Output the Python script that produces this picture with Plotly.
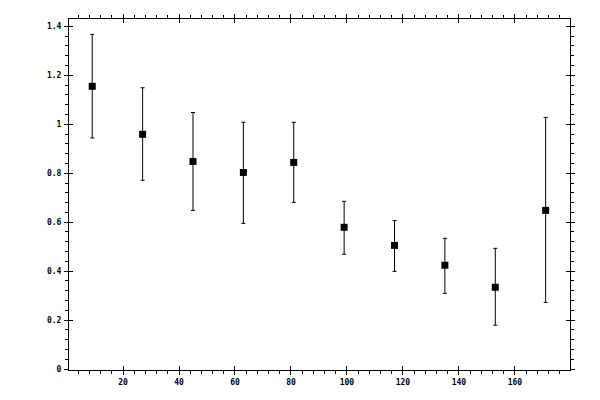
import plotly.graph_objects as go

x_vals = [9, 27, 45, 63, 81, 99, 117, 135, 153, 171]
y_vals = [1.155, 0.959, 0.848, 0.803, 0.844, 0.579, 0.505, 0.424, 0.334, 0.648]
err_plus = [1.367, 1.149, 1.048, 1.008, 1.008, 0.685, 0.607, 0.534, 0.493, 1.028]
err_minus = [0.944, 0.771, 0.648, 0.595, 0.681, 0.469, 0.399, 0.309, 0.179, 0.272]

x_ticks = [20, 40, 60, 80, 100, 120, 140, 160]
y_ticks = [0, 0.2, 0.4, 0.6, 0.8, 1, 1.2, 1.4]

up = [h - v for h, v in zip(err_plus, y_vals)]
down = [v - l for v, l in zip(y_vals, err_minus)]

XR = [0.7, 179.7]
YR = [-0.004, 1.43]
font = dict(family="DejaVu Sans Mono", size=8, color="black", weight="bold")

fig = go.Figure()
fig.add_trace(go.Scatter(
    x=x_vals, y=y_vals, mode="markers",
    marker=dict(symbol="square", size=7, color="black"),
    error_y=dict(type="data", symmetric=False, array=up, arrayminus=down,
                 color="black", thickness=1, width=2),
    showlegend=False,
))
fig.add_trace(go.Scatter(x=[None], y=[None], xaxis="x2", yaxis="y2", showlegend=False))

fig.update_layout(
    width=600, height=400,
    margin=dict(l=61, r=38, t=11, b=38),
    paper_bgcolor="white", plot_bgcolor="white",
    font=font,
    xaxis=dict(range=XR, tickvals=x_ticks, ticks="outside", ticklen=4, tickwidth=1,
               tickcolor="black", showline=True, linecolor="black", linewidth=1,
               mirror="allticks", showgrid=False, zeroline=False, tickfont=font,
               ticklabelstandoff=0, automargin=False,
               minor=dict(dtick=4, tick0=0, ticks="outside", ticklen=3, tickcolor="black",
                          showgrid=False)),
    yaxis=dict(range=YR, tickvals=y_ticks, ticks="outside", ticklen=4, tickwidth=1,
               tickcolor="black", showline=True, linecolor="black", linewidth=1,
               mirror="allticks", showgrid=False, zeroline=False, tickfont=font,
               ticklabelstandoff=1, automargin=False,
               minor=dict(dtick=0.04, tick0=0, ticks="outside", ticklen=3, tickcolor="black",
                          showgrid=False)),
    xaxis2=dict(range=XR, overlaying="x", anchor="y2", tickvals=x_ticks, ticks="inside",
                ticklen=4, tickcolor="black", showticklabels=False, showline=False,
                mirror="ticks", showgrid=False, zeroline=False, automargin=False),
    yaxis2=dict(range=YR, overlaying="y", anchor="x2", tickvals=y_ticks, ticks="inside",
                ticklen=4, tickcolor="black", showticklabels=False, showline=False,
                mirror="ticks", showgrid=False, zeroline=False, automargin=False),
)

fig.write_html("out.html")
